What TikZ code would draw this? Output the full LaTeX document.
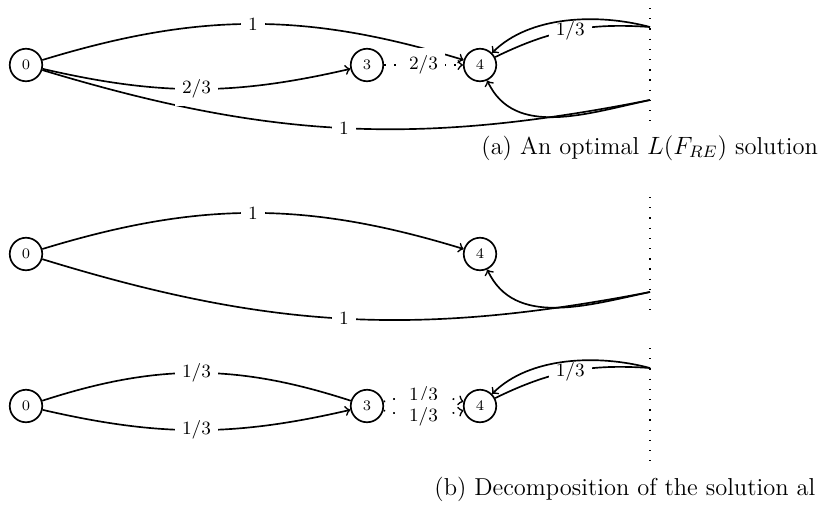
\documentclass[tikz,border=0pt]{standalone}
\usetikzlibrary{arrows}
\begin{document}
\begin{tikzpicture}[x=0.48pt,y=-0.48pt,
  state/.style={draw,circle,line width=0.8pt,minimum size=15.6pt,inner sep=0pt,font=\fontsize{7}{8}\selectfont},
  plain/.style={line width=0.8pt},
  edge/.style={line width=0.8pt,->},
  dotedge/.style={line width=0.8pt,->,dash pattern=on 0.8pt off 4pt},
  bnd/.style={line width=0.7pt,dash pattern=on 0.6pt off 4.3pt},
  lab/.style={fill=white,inner sep=3.5pt,font=\fontsize{9}{11}\selectfont},
  captext/.style={anchor=base west,inner sep=0pt,font=\fontsize{11.75}{14}\selectfont}]
\useasboundingbox (0,0) rectangle (823,508);

% ---------- (a)
\node[state] (a0) at (26,65) {0};
\node[state] (a3) at (367,65) {3};
\node[state] (a4) at (480,65) {4};
\coordinate (ab1) at (650,27);
\coordinate (ab2) at (650,100);
\draw[bnd] (650,8) -- (650,121);
\draw[edge] (a0) to[bend left=17] node[lab]{1} (a4);
\draw[plain] (a0) to[bend right=14] node[lab]{1} (ab2);
\draw[edge] (a0) to[bend right=13] node[lab]{2/3} (a3);
\draw[edge] (ab2) to[out=192,in=-65] (a4);
\draw[plain] (a4) to[bend left=15] node[lab]{1/3} (ab1);
\draw[edge] (ab1) to[out=165,in=45,looseness=0.85] (a4);
\draw[dotedge] (a3) -- node[lab]{2/3} (a4);
\node[captext] (capa) at (481,154) {(a) An optimal $L(F_{RE})$ solution};

% ---------- (b) top
\node[state] (b0) at (26,254) {0};
\node[state] (b4) at (480,254) {4};
\coordinate (bb2) at (650,292);
\draw[bnd] (650,197) -- (650,310);
\draw[edge] (b0) to[bend left=17] node[lab]{1} (b4);
\draw[plain] (b0) to[bend right=14] node[lab]{1} (bb2);
\draw[edge] (bb2) to[out=192,in=-65] (b4);

% ---------- (b) bottom
\node[state] (c0) at (26,406) {0};
\node[state] (c3) at (367,406) {3};
\node[state] (c4) at (480,406) {4};
\coordinate (cb1) at (650,368);
\draw[bnd] (650,348) -- (650,461);
\draw[plain] (c0) to[bend left=18] node[lab]{1/3} (c3);
\draw[edge] (c0) to[bend right=13] node[lab]{1/3} (c3);
\draw[dotedge] (c3) to[bend left=15] node[lab]{1/3} (c4);
\draw[dotedge] (c3) to[bend right=15] node[lab]{1/3} (c4);
\draw[plain] (c4) to[bend left=15] node[lab]{1/3} (cb1);
\draw[edge] (cb1) to[out=165,in=45,looseness=0.85] (c4);
\node[captext] (capb) at (434,495) {(b) Decomposition of the solution al};
\end{tikzpicture}
\end{document}
